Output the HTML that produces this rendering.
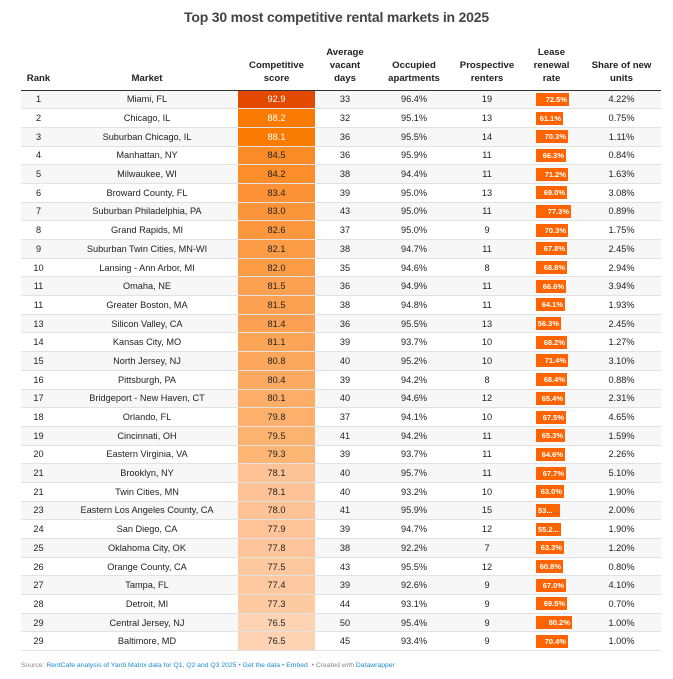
<!DOCTYPE html>
<html><head><meta charset="utf-8"><style>
*{margin:0;padding:0;box-sizing:border-box}
body{width:673px;height:679px;background:#fff;font-family:"Liberation Sans",sans-serif;color:#333;position:relative;overflow:hidden}
h1{position:absolute;top:9px;left:0;width:673px;text-align:center;font-size:14px;font-weight:bold;color:#444;letter-spacing:-0.2px}
table{position:absolute;left:21px;top:44px;width:640px;border-collapse:collapse;table-layout:fixed}
th{font-size:9.6px;font-weight:bold;color:#222;line-height:13px;vertical-align:bottom;text-align:center;padding-bottom:5px;height:46px;border-bottom:1.5px solid #333}
td{font-size:9.2px;height:18.7px;text-align:center;border-bottom:1px solid #e2e2e2;color:#222;padding:0}
tr:nth-child(even) td{background:#f7f7f7}
td.w{color:#fff}
td.l{text-align:left;padding-left:15px}
.b{display:inline-block;height:13px;background:#ff6400;color:#fff;font-size:7.5px;font-weight:bold;text-align:right;padding-right:2px;line-height:13px;vertical-align:middle;overflow:hidden;white-space:nowrap}
.f{position:absolute;left:21px;top:662px;font-size:6.8px;color:#888}
.f span{color:#1d8bd1}
</style></head><body>
<h1>Top 30 most competitive rental markets in 2025</h1>
<table>
<colgroup><col style="width:35px"><col style="width:182px"><col style="width:77px"><col style="width:60px"><col style="width:78px"><col style="width:68px"><col style="width:61px"><col style="width:79px"></colgroup>
<tr><th>Rank</th><th>Market</th><th>Competitive<br>score</th><th>Average<br>vacant<br>days</th><th>Occupied<br>apartments</th><th>Prospective<br>renters</th><th>Lease<br>renewal<br>rate</th><th>Share of new<br>units</th></tr>
<tr><td>1</td><td>Miami, FL</td><td class="w" style="background:#e34a00">92.9</td><td>33</td><td>96.4%</td><td>19</td><td class="l"><span class="b" style="width:33px">72.5%</span></td><td>4.22%</td></tr>
<tr><td>2</td><td>Chicago, IL</td><td class="w" style="background:#f97a00">88.2</td><td>32</td><td>95.1%</td><td>13</td><td class="l"><span class="b" style="width:27px">61.1%</span></td><td>0.75%</td></tr>
<tr><td>3</td><td>Suburban Chicago, IL</td><td class="w" style="background:#f97b02">88.1</td><td>36</td><td>95.5%</td><td>14</td><td class="l"><span class="b" style="width:32px">70.3%</span></td><td>1.11%</td></tr>
<tr><td>4</td><td>Manhattan, NY</td><td style="background:#fb8b26">84.5</td><td>36</td><td>95.9%</td><td>11</td><td class="l"><span class="b" style="width:30px">66.3%</span></td><td>0.84%</td></tr>
<tr><td>5</td><td>Milwaukee, WI</td><td style="background:#fb8d2a">84.2</td><td>38</td><td>94.4%</td><td>11</td><td class="l"><span class="b" style="width:32px">71.2%</span></td><td>1.63%</td></tr>
<tr><td>6</td><td>Broward County, FL</td><td style="background:#fc9235">83.4</td><td>39</td><td>95.0%</td><td>13</td><td class="l"><span class="b" style="width:31px">69.0%</span></td><td>3.08%</td></tr>
<tr><td>7</td><td>Suburban Philadelphia, PA</td><td style="background:#fc9439">83.0</td><td>43</td><td>95.0%</td><td>11</td><td class="l"><span class="b" style="width:35px">77.3%</span></td><td>0.89%</td></tr>
<tr><td>8</td><td>Grand Rapids, MI</td><td style="background:#fc973e">82.6</td><td>37</td><td>95.0%</td><td>9</td><td class="l"><span class="b" style="width:32px">70.3%</span></td><td>1.75%</td></tr>
<tr><td>9</td><td>Suburban Twin Cities, MN-WI</td><td style="background:#fc9b45">82.1</td><td>38</td><td>94.7%</td><td>11</td><td class="l"><span class="b" style="width:31px">67.8%</span></td><td>2.45%</td></tr>
<tr><td>10</td><td>Lansing - Ann Arbor, MI</td><td style="background:#fc9c47">82.0</td><td>35</td><td>94.6%</td><td>8</td><td class="l"><span class="b" style="width:31px">68.8%</span></td><td>2.94%</td></tr>
<tr><td>11</td><td>Omaha, NE</td><td style="background:#fca052">81.5</td><td>36</td><td>94.9%</td><td>11</td><td class="l"><span class="b" style="width:30px">66.6%</span></td><td>3.94%</td></tr>
<tr><td>11</td><td>Greater Boston, MA</td><td style="background:#fca052">81.5</td><td>38</td><td>94.8%</td><td>11</td><td class="l"><span class="b" style="width:29px">64.1%</span></td><td>1.93%</td></tr>
<tr><td>13</td><td>Silicon Valley, CA</td><td style="background:#fca153">81.4</td><td>36</td><td>95.5%</td><td>13</td><td class="l"><span class="b" style="width:25px">56.3%</span></td><td>2.45%</td></tr>
<tr><td>14</td><td>Kansas City, MO</td><td style="background:#fca457">81.1</td><td>39</td><td>93.7%</td><td>10</td><td class="l"><span class="b" style="width:31px">68.2%</span></td><td>1.27%</td></tr>
<tr><td>15</td><td>North Jersey, NJ</td><td style="background:#fca75c">80.8</td><td>40</td><td>95.2%</td><td>10</td><td class="l"><span class="b" style="width:32px">71.4%</span></td><td>3.10%</td></tr>
<tr><td>16</td><td>Pittsburgh, PA</td><td style="background:#fcaa61">80.4</td><td>39</td><td>94.2%</td><td>8</td><td class="l"><span class="b" style="width:31px">68.4%</span></td><td>0.88%</td></tr>
<tr><td>17</td><td>Bridgeport - New Haven, CT</td><td style="background:#fdad66">80.1</td><td>40</td><td>94.6%</td><td>12</td><td class="l"><span class="b" style="width:29px">65.4%</span></td><td>2.31%</td></tr>
<tr><td>18</td><td>Orlando, FL</td><td style="background:#fdb06b">79.8</td><td>37</td><td>94.1%</td><td>10</td><td class="l"><span class="b" style="width:30px">67.5%</span></td><td>4.65%</td></tr>
<tr><td>19</td><td>Cincinnati, OH</td><td style="background:#fdb370">79.5</td><td>41</td><td>94.2%</td><td>11</td><td class="l"><span class="b" style="width:29px">65.3%</span></td><td>1.59%</td></tr>
<tr><td>20</td><td>Eastern Virginia, VA</td><td style="background:#fdb573">79.3</td><td>39</td><td>93.7%</td><td>11</td><td class="l"><span class="b" style="width:29px">64.6%</span></td><td>2.26%</td></tr>
<tr><td>21</td><td>Brooklyn, NY</td><td style="background:#fdc295">78.1</td><td>40</td><td>95.7%</td><td>11</td><td class="l"><span class="b" style="width:30px">67.7%</span></td><td>5.10%</td></tr>
<tr><td>21</td><td>Twin Cities, MN</td><td style="background:#fdc295">78.1</td><td>40</td><td>93.2%</td><td>10</td><td class="l"><span class="b" style="width:28px">63.0%</span></td><td>1.90%</td></tr>
<tr><td>23</td><td>Eastern Los Angeles County, CA</td><td style="background:#fdc397">78.0</td><td>41</td><td>95.9%</td><td>15</td><td class="l"><span class="b" style="width:24px;text-align:left;padding-left:2px">53...</span></td><td>2.00%</td></tr>
<tr><td>24</td><td>San Diego, CA</td><td style="background:#fec498">77.9</td><td>39</td><td>94.7%</td><td>12</td><td class="l"><span class="b" style="width:25px;text-align:left;padding-left:2px">55.2...</span></td><td>1.90%</td></tr>
<tr><td>25</td><td>Oklahoma City, OK</td><td style="background:#fec59a">77.8</td><td>38</td><td>92.2%</td><td>7</td><td class="l"><span class="b" style="width:28px">63.3%</span></td><td>1.20%</td></tr>
<tr><td>26</td><td>Orange County, CA</td><td style="background:#fec89e">77.5</td><td>43</td><td>95.5%</td><td>12</td><td class="l"><span class="b" style="width:27px">60.8%</span></td><td>0.80%</td></tr>
<tr><td>27</td><td>Tampa, FL</td><td style="background:#fec9a0">77.4</td><td>39</td><td>92.6%</td><td>9</td><td class="l"><span class="b" style="width:30px">67.0%</span></td><td>4.10%</td></tr>
<tr><td>28</td><td>Detroit, MI</td><td style="background:#fecaa2">77.3</td><td>44</td><td>93.1%</td><td>9</td><td class="l"><span class="b" style="width:31px">69.5%</span></td><td>0.70%</td></tr>
<tr><td>29</td><td>Central Jersey, NJ</td><td style="background:#fed3b3">76.5</td><td>50</td><td>95.4%</td><td>9</td><td class="l"><span class="b" style="width:36px">80.2%</span></td><td>1.00%</td></tr>
<tr><td>29</td><td>Baltimore, MD</td><td style="background:#fed3b3">76.5</td><td>45</td><td>93.4%</td><td>9</td><td class="l"><span class="b" style="width:32px">70.4%</span></td><td>1.00%</td></tr>
</table>
<div class="f">Source: <span>RentCafe analysis of Yardi Matrix data for Q1, Q2 and Q3 2025</span> • <span>Get the data</span> • <span>Embed</span> &nbsp;• Created with <span>Datawrapper</span></div>
</body></html>
